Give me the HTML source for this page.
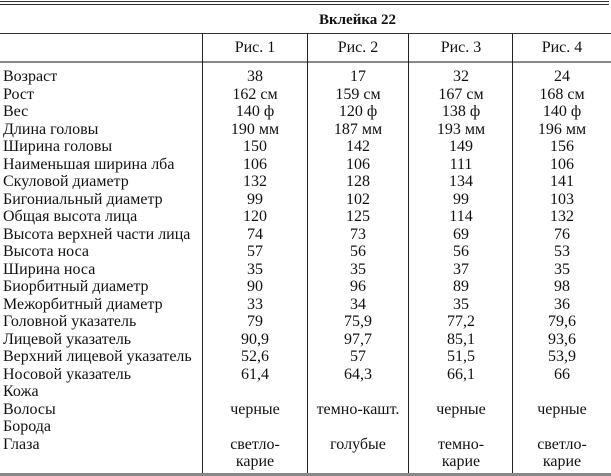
<!DOCTYPE html>
<html><head><meta charset="utf-8"><style>
html,body{margin:0;padding:0;background:#fff}
body{width:611px;height:476px;position:relative;overflow:hidden;font-family:"Liberation Serif","DejaVu Serif",serif;font-size:16px;color:#111}
.h{position:absolute;left:0;width:611px}
.v{position:absolute;width:1px;background:#222}
.row{position:absolute;left:0;width:611px;height:17.5px;line-height:17.5px;white-space:nowrap}
.row span{position:absolute;top:0;text-align:center}
.l{left:3px;text-align:left!important}
.c1{left:203px;width:104px}
.c2{left:308px;width:100px}
.c3{left:409px;width:104px}
.c4{left:513px;width:98px}
</style></head><body>
<div class="h" style="top:1px;height:1px;background:#333;width:609px"></div>
<div class="h" style="top:4px;height:1px;background:#333;width:609px"></div>
<div style="position:absolute;top:10px;left:0;width:611px;text-align:center;font-weight:bold;font-size:15px;line-height:20px;padding-left:104px;box-sizing:border-box">Вклейка 22</div>
<div class="h" style="top:33px;height:1px;background:#333"></div>
<div class="h" style="top:61px;height:2px;background:#888"></div>
<div class="h" style="top:473px;height:3px;background:#888"></div>
<div class="v" style="left:202px;top:33px;height:440px"></div>
<div class="v" style="left:307px;top:33px;height:440px"></div>
<div class="v" style="left:408px;top:33px;height:440px"></div>
<div class="v" style="left:512px;top:33px;height:440px"></div>
<div class="row" style="top:39px"><span class="c1">Рис. 1</span><span class="c2">Рис. 2</span><span class="c3">Рис. 3</span><span class="c4">Рис. 4</span></div>
<div class="row" style="top:68px"><span class="l">Возраст</span><span class="c1">38</span><span class="c2">17</span><span class="c3">32</span><span class="c4">24</span></div>
<div class="row" style="top:85.5px"><span class="l">Рост</span><span class="c1">162 см</span><span class="c2">159 см</span><span class="c3">167 см</span><span class="c4">168 см</span></div>
<div class="row" style="top:103px"><span class="l">Вес</span><span class="c1">140 ф</span><span class="c2">120 ф</span><span class="c3">138 ф</span><span class="c4">140 ф</span></div>
<div class="row" style="top:120.5px"><span class="l">Длина головы</span><span class="c1">190 мм</span><span class="c2">187 мм</span><span class="c3">193 мм</span><span class="c4">196 мм</span></div>
<div class="row" style="top:138px"><span class="l">Ширина головы</span><span class="c1">150</span><span class="c2">142</span><span class="c3">149</span><span class="c4">156</span></div>
<div class="row" style="top:155.5px"><span class="l">Наименьшая ширина лба</span><span class="c1">106</span><span class="c2">106</span><span class="c3">111</span><span class="c4">106</span></div>
<div class="row" style="top:173px"><span class="l">Скуловой диаметр</span><span class="c1">132</span><span class="c2">128</span><span class="c3">134</span><span class="c4">141</span></div>
<div class="row" style="top:190.5px"><span class="l">Бигониальный диаметр</span><span class="c1">99</span><span class="c2">102</span><span class="c3">99</span><span class="c4">103</span></div>
<div class="row" style="top:208px"><span class="l">Общая высота лица</span><span class="c1">120</span><span class="c2">125</span><span class="c3">114</span><span class="c4">132</span></div>
<div class="row" style="top:225.5px"><span class="l">Высота верхней части лица</span><span class="c1">74</span><span class="c2">73</span><span class="c3">69</span><span class="c4">76</span></div>
<div class="row" style="top:243px"><span class="l">Высота носа</span><span class="c1">57</span><span class="c2">56</span><span class="c3">56</span><span class="c4">53</span></div>
<div class="row" style="top:260.5px"><span class="l">Ширина носа</span><span class="c1">35</span><span class="c2">35</span><span class="c3">37</span><span class="c4">35</span></div>
<div class="row" style="top:278px"><span class="l">Биорбитный диаметр</span><span class="c1">90</span><span class="c2">96</span><span class="c3">89</span><span class="c4">98</span></div>
<div class="row" style="top:295.5px"><span class="l">Межорбитный диаметр</span><span class="c1">33</span><span class="c2">34</span><span class="c3">35</span><span class="c4">36</span></div>
<div class="row" style="top:313px"><span class="l">Головной указатель</span><span class="c1">79</span><span class="c2">75,9</span><span class="c3">77,2</span><span class="c4">79,6</span></div>
<div class="row" style="top:330.5px"><span class="l">Лицевой указатель</span><span class="c1">90,9</span><span class="c2">97,7</span><span class="c3">85,1</span><span class="c4">93,6</span></div>
<div class="row" style="top:348px"><span class="l">Верхний лицевой указатель</span><span class="c1">52,6</span><span class="c2">57</span><span class="c3">51,5</span><span class="c4">53,9</span></div>
<div class="row" style="top:365.5px"><span class="l">Носовой указатель</span><span class="c1">61,4</span><span class="c2">64,3</span><span class="c3">66,1</span><span class="c4">66</span></div>
<div class="row" style="top:383px"><span class="l">Кожа</span></div>
<div class="row" style="top:400.5px"><span class="l">Волосы</span><span class="c1">черные</span><span class="c2">темно-кашт.</span><span class="c3">черные</span><span class="c4">черные</span></div>
<div class="row" style="top:418px"><span class="l">Борода</span></div>
<div class="row" style="top:435.5px"><span class="l">Глаза</span><span class="c1">светло-</span><span class="c2">голубые</span><span class="c3">темно-</span><span class="c4">светло-</span></div>
<div class="row" style="top:453px"><span class="c1">карие</span><span class="c3">карие</span><span class="c4">карие</span></div>
</body></html>
